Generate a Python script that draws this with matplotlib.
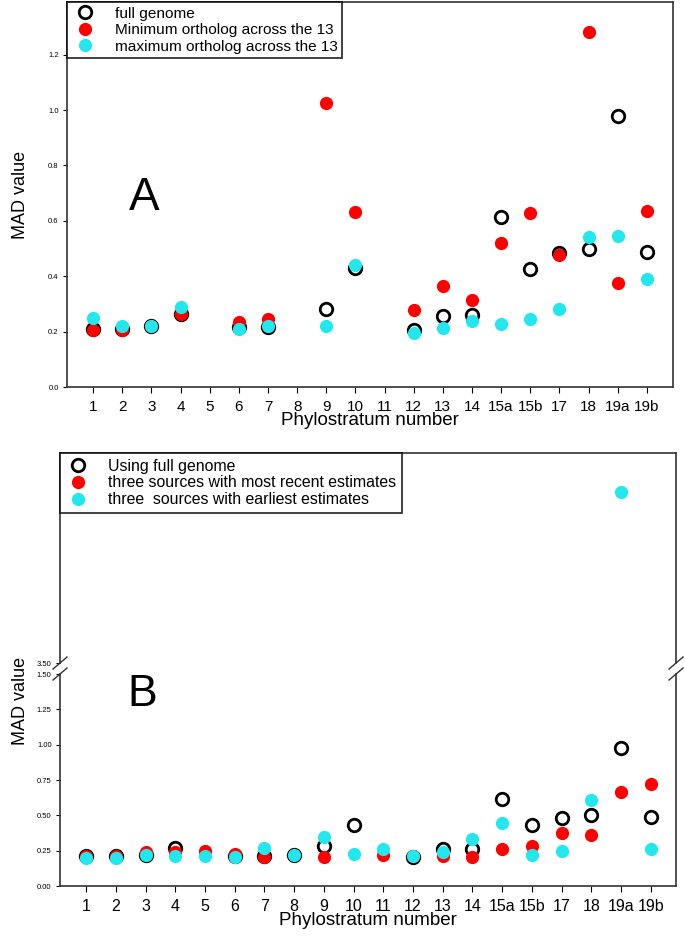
import numpy as np
import matplotlib
matplotlib.use('Agg')
import matplotlib.pyplot as plt

plt.rcParams['font.family'] = ['Liberation Sans', 'DejaVu Sans']

# categories
strata = ['1', '2', '3', '4', '5', '6', '7', '8', '9', '10', '11', '12', '13', '14',
          '15a', '15b', '17', '18', '19a', '19b']

# panel A values (None = no point)
a_full = [0.21, 0.21, 0.22, 0.265, None, 0.215, 0.215, None, 0.28, 0.43, None, 0.207,
          0.258, 0.26, 0.614, 0.426, 0.484, 0.50, 0.98, 0.488]
a_min = [0.205, 0.205, 0.22, 0.265, None, 0.235, 0.245, None, 1.025, 0.633, None, 0.279,
         0.366, 0.315, 0.52, 0.63, 0.477, 1.28, 0.377, 0.636]
a_max = [0.248, 0.222, 0.222, 0.29, None, 0.21, 0.222, None, 0.22, 0.44, None, 0.196,
         0.214, 0.24, 0.229, 0.247, 0.283, 0.54, 0.546, 0.39]

# panel B values
b_full = [0.21, 0.21, 0.22, 0.27, None, 0.215, 0.215, 0.22, 0.28, 0.43, None, 0.205,
          0.26, 0.26, 0.615, 0.43, 0.48, 0.50, 0.98, 0.49]
b_recent = [0.21, 0.21, 0.24, 0.24, 0.25, 0.225, 0.205, None, 0.205, None, 0.22, 0.21,
            0.21, 0.205, 0.26, 0.28, 0.375, 0.36, 0.665, 0.72]
b_early = [0.20, 0.20, 0.22, 0.215, 0.215, 0.205, 0.27, 0.22, 0.35, 0.23, 0.26, 0.21,
           0.24, 0.33, 0.445, 0.22, 0.25, 0.61, 4.72, 0.26]

RED = '#ff0000'
CYAN = '#22e8ee'


def pts(vals):
    x = [i for i, v in enumerate(vals) if v is not None]
    y = [v for v in vals if v is not None]
    return np.array(x), np.array(y)


def draw_series(ax, full, red, cyan, labels):
    x, y = pts(full)
    ax.plot(x, y, 'o', ls='none', mfc='none', mec='black', mew=2, ms=9, label=labels[0])
    x, y = pts(red)
    ax.plot(x, y, 'o', ls='none', color=RED, ms=8.5, label=labels[1])
    x, y = pts(cyan)
    ax.plot(x, y, 'o', ls='none', color=CYAN, ms=8.5, label=labels[2])


fig = plt.figure(figsize=(6.85, 9.41), dpi=100)

# ---------------- panel A ----------------
axA = fig.add_axes([0.0978, 0.5887, 0.8847, 0.4092])
draw_series(axA, a_full, a_min, a_max,
            ['full genome', 'Minimum ortholog across the 13', 'maximum ortholog across the 13'])
axA.set_xlim(-0.9, 19.9)
axA.set_ylim(0, 1.39)
axA.set_yticks([0.0, 0.2, 0.4, 0.6, 0.8, 1.0, 1.2])
axA.set_yticklabels(['0.0', '0.2', '0.4', '0.6', '0.8', '1.0', '1.2'], fontsize=5.5)
axA.set_xticks(range(len(strata)))
axA.set_xticklabels(strata, fontsize=11)
axA.tick_params(axis='x', length=4, pad=5)
axA.tick_params(axis='y', length=3, pad=3)
axA.set_xlabel('Phylostratum number', fontsize=13.5, labelpad=-1)
axA.set_ylabel('MAD value', fontsize=13, labelpad=14)
for s in axA.spines.values():
    s.set_linewidth(1.2)
    s.set_color('#333333')
axA.text(0.128, 0.49, 'A', transform=axA.transAxes, fontsize=33, ha='center', va='center')
legA = axA.legend(loc='upper left', bbox_to_anchor=(0, 1), borderaxespad=0, fontsize=11.1,
                  frameon=True, fancybox=False, edgecolor='black', handletextpad=1.1,
                  labelspacing=0.17, borderpad=0.3, handlelength=1.7)
legA.get_frame().set_linewidth(1.3)

# ---------------- panel B (broken axis) ----------------
left_b, width_b = 0.0876, 0.8993
axBt = fig.add_axes([left_b, 0.2954, width_b, 0.2232])
axB = fig.add_axes([left_b, 0.0584, width_b, 0.2253])
labelsB = ['Using full genome', 'three sources with most recent estimates',
           'three  sources with earliest estimates']
draw_series(axBt, b_full, b_recent, b_early, labelsB)
draw_series(axB, b_full, b_recent, b_early, labelsB)

for ax in (axBt, axB):
    ax.set_xlim(-0.88, 19.85)
    for s in ax.spines.values():
        s.set_linewidth(1.2)
        s.set_color('#333333')

axBt.set_ylim(3.5, 5.0)
axBt.set_yticks([3.5])
axBt.set_yticklabels(['3.50'], fontsize=5.5)
axBt.spines['bottom'].set_visible(False)
axBt.set_xticks([])
axBt.tick_params(axis='y', length=3, pad=3)

axB.set_ylim(0, 1.5)
axB.set_yticks([0, 0.25, 0.5, 0.75, 1.0, 1.25, 1.5])
axB.set_yticklabels(['0.00', '0.25', '0.50', '0.75', '1.00', '1.25', '1.50'], fontsize=5.5)
axB.spines['top'].set_visible(False)
axB.set_xticks(range(len(strata)))
axB.set_xticklabels(strata, fontsize=11.5)
axB.tick_params(axis='x', length=4, pad=5)
axB.tick_params(axis='y', length=3, pad=3)
axB.set_xlabel('Phylostratum number', fontsize=13.5, labelpad=-1)
axB.text(0.134, 0.905, 'B', transform=axB.transAxes, fontsize=32, ha='center', va='center')

fig.text(0.03, 0.255, 'MAD value', rotation=90, fontsize=13, ha='center', va='center')

# break marks, centred on the spine ends
dx = 7 / (width_b * 685)
for ax, ya, h in ((axBt, 0.0, 0.2232), (axB, 1.0, 0.2253)):
    dy = 6 / (h * 941)
    for xa in (0.0, 1.0):
        ax.plot([xa - dx, xa + dx], [ya - dy, ya + dy], transform=ax.transAxes,
                color='#333333', lw=1, clip_on=False)

legB = axBt.legend(loc='upper left', bbox_to_anchor=(0, 1), borderaxespad=0, fontsize=11.4,
                   frameon=True, fancybox=False, edgecolor='black', handletextpad=1.1,
                   labelspacing=0.12, borderpad=0.35, handlelength=1.6)
legB.get_frame().set_linewidth(1.3)

fig.savefig('out.png', dpi=100)
